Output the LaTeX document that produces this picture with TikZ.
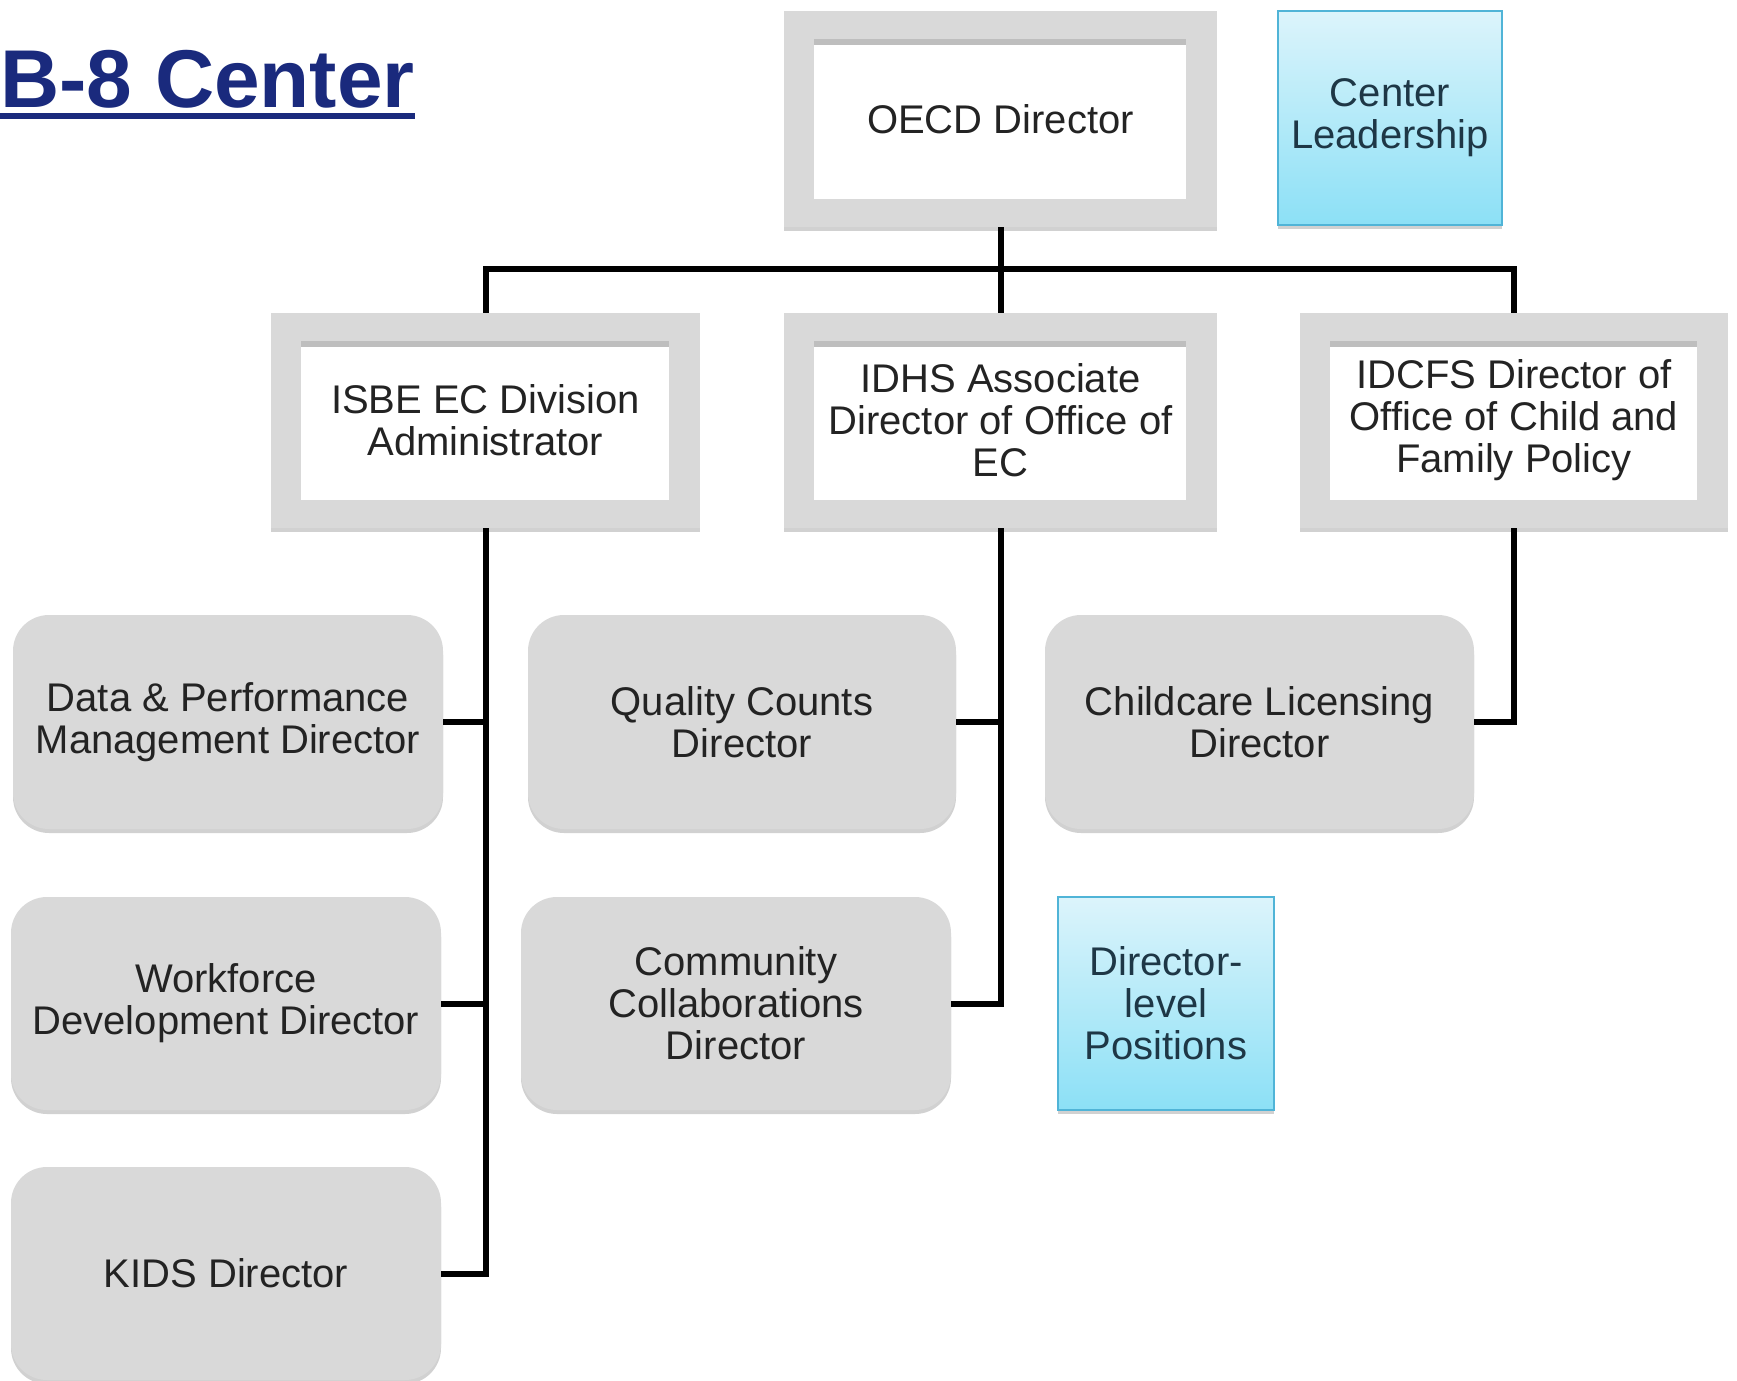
\documentclass[tikz,border=0pt]{standalone}
\usepackage{fontspec}
\setmainfont{Liberation Sans}
\usetikzlibrary{shadows}
\definecolor{navy}{RGB}{26,42,125}
\definecolor{boxgray}{RGB}{217,217,217}
\definecolor{topband}{RGB}{190,190,190}
\definecolor{txt}{RGB}{35,35,35}
\definecolor{bluetop}{RGB}{220,244,251}
\definecolor{bluebot}{RGB}{140,224,246}
\definecolor{blueedge}{RGB}{80,180,215}
\definecolor{bluetxt}{RGB}{30,55,70}
\tikzset{
  lbl/.style={font=\fontsize{40}{42}\selectfont, text=txt, align=center, inner sep=0pt},
  shadowed/.style={drop shadow={shadow xshift=0pt, shadow yshift=-4pt, fill=black, opacity=0.18}},
  framebox/.style={lbl, rectangle, fill=boxgray, shadowed,
    path picture={
      \fill[white] ([shift={(30pt,-28pt)}]path picture bounding box.north west)
        rectangle ([shift={(-31pt,28pt)}]path picture bounding box.south east);
      \fill[topband] ([shift={(30pt,-28pt)}]path picture bounding box.north west)
        rectangle ([shift={(-31pt,-34pt)}]path picture bounding box.north east);
    }},
  roundbox/.style={lbl, rectangle, rounded corners=36pt, fill=boxgray, shadowed},
  bluebox/.style={lbl, text=bluetxt, rectangle, top color=bluetop, bottom color=bluebot,
    draw=blueedge, line width=1.5pt, shadowed},
  conn/.style={line width=6pt, black}
}
\begin{document}
\begin{tikzpicture}[x=1pt,y=-1pt]
\useasboundingbox (0,0) rectangle (1737,1381);
\fill[white] (0,0) rectangle (1737,1381);

% title
\node[anchor=base west, inner sep=0pt, text=navy, font=\fontsize{82}{90}\selectfont\bfseries] (title) at (0,107) {B-8 Center};
\draw[navy, line width=5.5pt] ([yshift=-9pt]title.base west) -- ([yshift=-9pt]title.base east);

% top level
\node[framebox, minimum width=433pt, minimum height=216pt] (oecd) at (1000.5,119) {OECD Director};
\node[bluebox, minimum width=224pt, minimum height=214pt] (lead) at (1390,118) {Center\\Leadership};

% second level
\node[framebox, minimum width=429pt, minimum height=215pt] (isbe) at (485.5,420.5) {ISBE EC Division\\Administrator};
\node[framebox, minimum width=433pt, minimum height=215pt] (idhs) at (1000.5,420.5) {IDHS Associate\\Director of Office of\\EC};
\node[framebox, minimum width=428pt, minimum height=215pt] (idcfs) at (1514,420.5) {IDCFS Director of\\Office of Child and\\Family Policy};

% directors
\node[roundbox, minimum width=430pt, minimum height=214pt] (data) at (228,722) {Data \& Performance\\Management Director};
\node[roundbox, minimum width=430pt, minimum height=213pt] (work) at (226,1003.5) {Workforce\\Development Director};
\node[roundbox, minimum width=430pt, minimum height=213pt] (kids) at (226,1273.5) {KIDS Director};
\node[roundbox, minimum width=428pt, minimum height=214pt] (qual) at (742,722) {Quality Counts\\Director};
\node[roundbox, minimum width=430pt, minimum height=213pt] (comm) at (736,1003.5) {Community\\Collaborations\\Director};
\node[roundbox, minimum width=429pt, minimum height=214pt] (child) at (1259.5,722) {Childcare Licensing\\Director};
\node[bluebox, minimum width=216pt, minimum height=213pt] (dlev) at (1166,1003.5) {Director-\\level\\Positions};

% connectors
\coordinate (bus) at (1000.5,269);
\draw[conn] (oecd.south) -- (idhs.north);
\draw[conn] (isbe.north) -- (isbe.north |- bus) -- (idcfs.north |- bus) -- (idcfs.north);
\draw[conn] (isbe.south) |- (kids.east);
\draw[conn] (data.east) -- (data.east -| isbe.south);
\draw[conn] (work.east) -- (work.east -| isbe.south);
\draw[conn] (idhs.south) |- (comm.east);
\draw[conn] (qual.east) -- (qual.east -| idhs.south);
\draw[conn] (idcfs.south) |- (child.east);
\end{tikzpicture}
\end{document}
